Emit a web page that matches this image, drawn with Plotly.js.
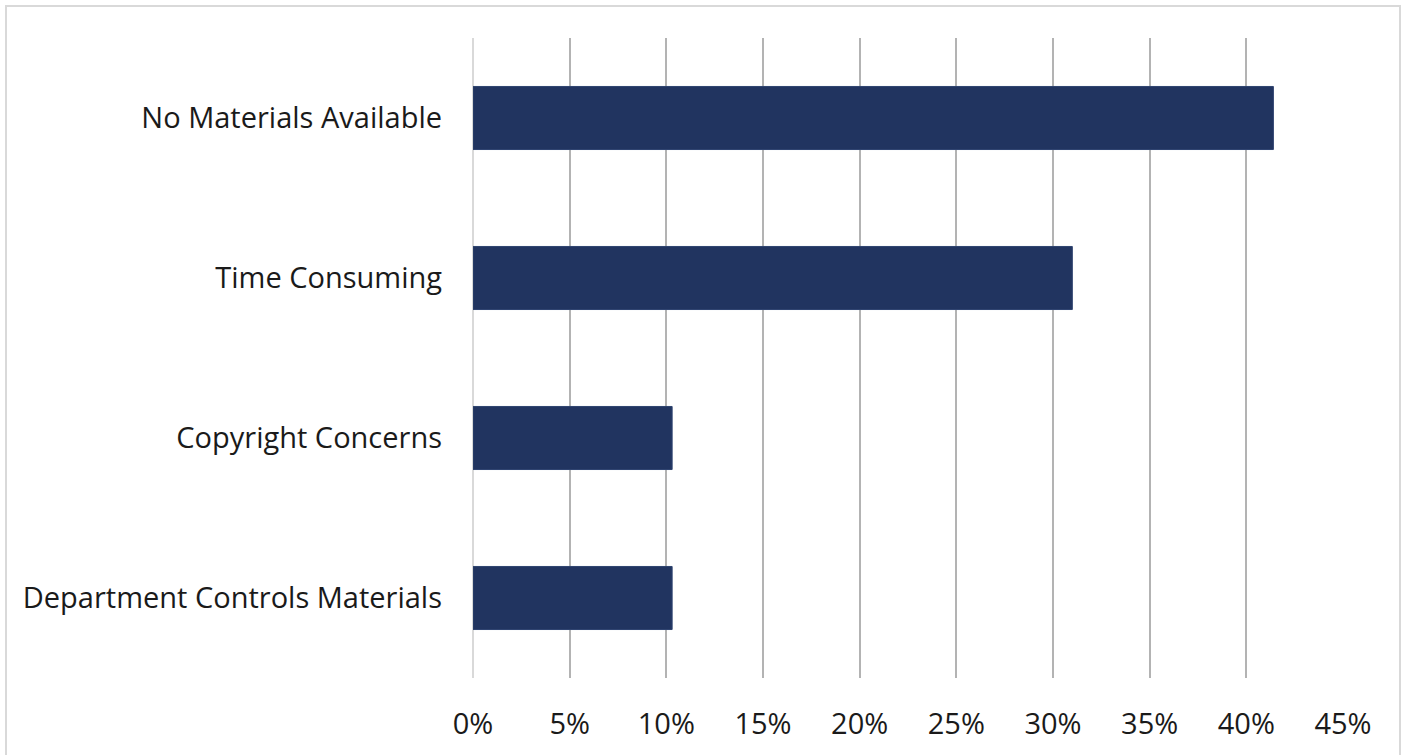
<!DOCTYPE html>
<html><head><meta charset="utf-8">
<script src="https://cdn.plot.ly/plotly-3.0.1.min.js"></script>
<style>
html,body{margin:0;padding:0;background:#fff;overflow:hidden;}
#frame{position:absolute;left:5px;top:5px;width:1396px;height:760px;border:2px solid #d9d9d9;box-sizing:border-box;}
#chart{position:absolute;left:0;top:0;width:1406px;height:755px;}
</style></head>
<body>
<div id="frame"></div>
<div id="chart"></div>
<script>
const categories = ["Department Controls Materials", "Copyright Concerns", "Time Consuming", "No Materials Available"];
const values = [0.103, 0.103, 0.310, 0.414];
const tickVals = [0, 0.05, 0.10, 0.15, 0.20, 0.25, 0.30, 0.35, 0.40, 0.45];
const tickText = ["0%", "5%", "10%", "15%", "20%", "25%", "30%", "35%", "40%", "45%"];

const trace = {
  type: "bar", orientation: "h",
  x: values, y: categories,
  marker: {color: "#213460", line: {color: "#2f4470", width: 1}},
  hoverinfo: "none"
};
const layout = {
  width: 1406, height: 755,
  margin: {l: 473, r: 63, t: 38, b: 77},
  paper_bgcolor: "rgba(0,0,0,0)", plot_bgcolor: "rgba(0,0,0,0)",
  showlegend: false,
  bargap: 0.606,
  font: {family: "Open Sans, sans-serif", size: 29, color: "#1a1a1a"},
  xaxis: {
    range: [0, 0.45], tickvals: tickVals, ticktext: tickText,
    showgrid: true, gridcolor: "#b3b3b3", gridwidth: 2,
    zeroline: true, zerolinecolor: "#d9d9d9", zerolinewidth: 2,
    showline: false, ticks: "", ticklabelstandoff: 26,
    tickfont: {size: 29, color: "#1a1a1a"}, fixedrange: true
  },
  yaxis: {
    showgrid: false, zeroline: false, showline: false, ticks: "",
    ticklabelstandoff: 30, tickfont: {size: 29, color: "#1a1a1a"}, fixedrange: true
  }
};
Plotly.newPlot("chart", [trace], layout, {displayModeBar: false, staticPlot: true});
</script>
</body></html>
